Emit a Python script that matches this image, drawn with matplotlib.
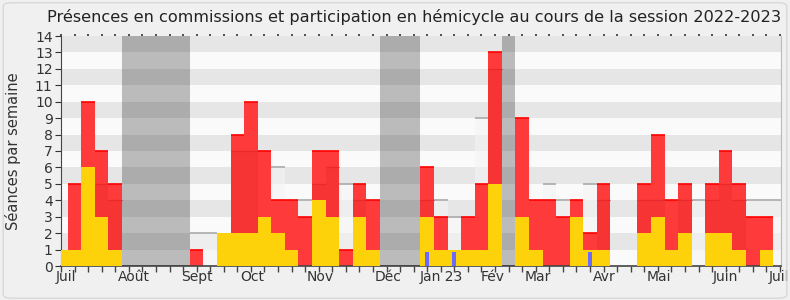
import numpy as np
import matplotlib.pyplot as plt
from matplotlib.patches import FancyBboxPatch

# one value per week, week 0 = last week of June 2022
presence = [0, 5, 10, 7, 5, 0, 0, 0, 0, 0,
            1, 0, 0, 8, 10, 7, 4, 4, 3, 7,
            7, 1, 5, 4, 0, 0, 0, 6, 3, 0,
            3, 5, 13, 0, 9, 4, 4, 3, 4, 2,
            5, 0, 0, 5, 8, 4, 5, 0, 5, 7,
            5, 3, 3, 0]
interventions_com = [0, 0, 0, 5, 4, 0, 0, 0, 0, 0,
                     0, 0, 0, 7, 7, 0, 0, 0, 0, 5,
                     6, 0, 4, 0, 0, 0, 0, 4, 0, 0,
                     0, 0, 12, 0, 0, 0, 0, 0, 0, 0,
                     4, 0, 0, 4, 4, 0, 4, 0, 4, 5,
                     4, 0, 0, 0]
hemicycle = [1, 1, 6, 3, 1, 0, 0, 0, 0, 0,
             0, 0, 2, 2, 2, 3, 2, 1, 0, 4,
             3, 0, 3, 1, 0, 0, 0, 3, 1, 1,
             1, 1, 5, 0, 3, 1, 0, 0, 3, 1,
             1, 0, 0, 2, 3, 1, 2, 0, 2, 2,
             1, 0, 1, 0]
questions = {27: 1, 29: 1, 39: 1}
mediane = {10: 2, 11: 2, 16: 6, 18: 4, 21: 5, 28: 4, 29: 3, 31: 9,
           36: 5, 37: 4, 39: 5, 47: 4, 51: 4, 52: 4, 53: 4}
vacances = [(5, 5), (24, 3), (33, 1)]  # (first week, number of weeks)

mois = ['Juil', 'Août', 'Sept', 'Oct', 'Nov', 'Déc', 'Jan 23', 'Fév',
        'Mar', 'Avr', 'Mai', 'Juin', 'Juil']
mois_pos = [0.83, 5.84, 10.55, 14.61, 19.62, 24.63, 28.53, 32.29,
            35.68, 40.54, 44.6, 49.46, 53.44]

weeks = np.arange(len(presence))

fig = plt.figure(figsize=(7.9, 3), dpi=100, facecolor='#f0f0f0')
fig.patches.append(FancyBboxPatch((0.004, 0.006), 0.992, 0.985,
                                  boxstyle='round,pad=0,rounding_size=0.012',
                                  transform=fig.transFigure, fc='none',
                                  ec='#d8d8d8', lw=1))
ax = fig.add_axes([61/790, 34/300, 720/790, 230/300])
ax.set_facecolor('#fafafa')

for k in range(1, 14, 2):
  ax.axhspan(k, k + 1, color='#e6e6e6', lw=0, zorder=0)

# median of all deputies
for w, v in mediane.items():
  ax.bar(w, v, width=1, align='edge', color='#f4f4f4', alpha=0.6, lw=0, zorder=1)
  ax.hlines(v, w, w + 1, color='#aaaaaa', lw=1.2, zorder=1.1)

ax.bar(weeks, presence, width=1, align='edge', color='#ff3a3a', lw=0, zorder=2)
ax.bar(weeks, interventions_com, width=1, align='edge', color='#f73434', lw=0, zorder=2.1)
for w in weeks:
  if presence[w] > 0:
    ax.hlines(presence[w], w, w + 1, color='#ff0000', lw=1.2, zorder=2.2)
  if interventions_com[w] > 0:
    ax.hlines(interventions_com[w], w, w + 1, color='#e82a2a', lw=0.9, zorder=2.2)

ax.bar(weeks, hemicycle, width=1, align='edge', color='#fdd20b', lw=0, zorder=3)

qw = list(questions.keys())
qv = [questions[w] * 0.87 for w in qw]
ax.bar(np.array(qw) + 0.47, qv, width=0.3, color='#6a6aff', lw=0, zorder=4)

for start, n in vacances:
  ax.axvspan(start, start + n, color='black', alpha=0.25, lw=0, zorder=5)

ax.set_xlim(0.53, 53.58)
ax.set_ylim(0, 14)
ax.set_yticks(range(15))
ax.set_xticks(mois_pos)
ax.set_xticklabels(mois)
ax.set_xticks(weeks + 0.5, minor=True)
ax.tick_params(axis='x', which='major', length=0, labelsize=10, colors='#333333', pad=3)
ax.tick_params(axis='x', which='minor', length=4, width=1, color='#444444')
ax.tick_params(axis='y', length=4, labelsize=10, colors='#333333', pad=2)

top = ax.secondary_xaxis('top')
top.set_xticks([])
top.set_xticks(weeks + 0.5, minor=True)
top.tick_params(which='minor', length=1.5, width=1.2, color='#333333')
top.spines['top'].set_visible(False)

ax.spines['top'].set_visible(False)
ax.spines['right'].set_color('#bbbbbb')
ax.spines['left'].set_color('#444444')
ax.spines['bottom'].set_color('#444444')
ax.spines['bottom'].set_linewidth(1.2)

ax.set_ylabel('Séances par semaine', fontsize=10.5, color='#333333', labelpad=10)
fig.text(414/790, 1 - 17/300, 'Présences en commissions et participation en hémicycle au cours de la session 2022-2023',
         ha='center', va='center', fontsize=11.6, color='#222222')

plt.savefig('out.png', dpi=100, facecolor=fig.get_facecolor())
